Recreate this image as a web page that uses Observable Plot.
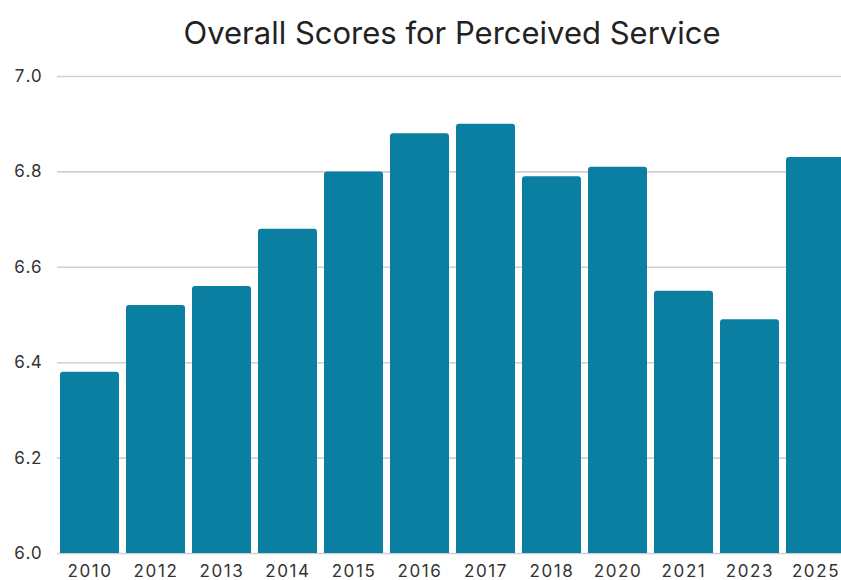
<!DOCTYPE html>
<html><head><meta charset="utf-8">
<script src="https://cdn.jsdelivr.net/npm/d3@7"></script>
<script src="https://cdn.jsdelivr.net/npm/@observablehq/plot@0.6"></script>
<style>
html,body{margin:0;padding:0;background:#fff;overflow:hidden;}
#wrap{position:relative;width:841px;height:580px;overflow:hidden;}
#title{position:absolute;top:17px;left:51px;width:802px;text-align:center;font-family:Inter,"Noto Sans",sans-serif;font-size:31px;line-height:1;color:#222;}
#chart{position:absolute;top:60px;left:0;}
#chart g[aria-label="x-axis tick label"] text{letter-spacing:1.6px;}
#chart g[aria-label="y-axis tick label"] text{letter-spacing:0.6px;}
</style></head><body>
<div id="wrap"><div id="title">Overall Scores for Perceived Service</div><div id="chart"></div></div>
<script>
const years = ["2010","2012","2013","2014","2015","2016","2017","2018","2020","2021","2023","2025"];
const scores = [6.38, 6.52, 6.56, 6.68, 6.80, 6.88, 6.90, 6.79, 6.81, 6.55, 6.49, 6.83];
const yTicks = [6.0, 6.2, 6.4, 6.6, 6.8, 7.0];
const yDomain = [6.0, 7.0];

const data = years.map((y, i) => ({year: y, score: scores[i]}));

const chart = Plot.plot({
  width: 841,
  height: 520,
  marginTop: 16,
  marginBottom: 27,
  marginLeft: 51,
  marginRight: -12,
  style: {fontFamily: "Inter, 'Noto Sans', sans-serif", fontSize: "17px", color: "#333", background: "#fff"},
  x: {domain: years, padding: 0.11, tickSize: 0, tickPadding: 11, label: null},
  y: {domain: yDomain, ticks: yTicks, tickFormat: d3.format(".1f"), tickSize: 0, tickPadding: 9, label: null},
  marks: [
    Plot.ruleY(yTicks, {stroke: "#d0d0d0", strokeWidth: 1.6, insetLeft: 6}),
    Plot.barY(data, {x: "year", y1: yDomain[0], y2: "score", fill: "#0a7fa2", rx: 3, insetBottom: -6, clip: true})
  ]
});
document.getElementById("chart").appendChild(chart);
</script>
</body></html>
